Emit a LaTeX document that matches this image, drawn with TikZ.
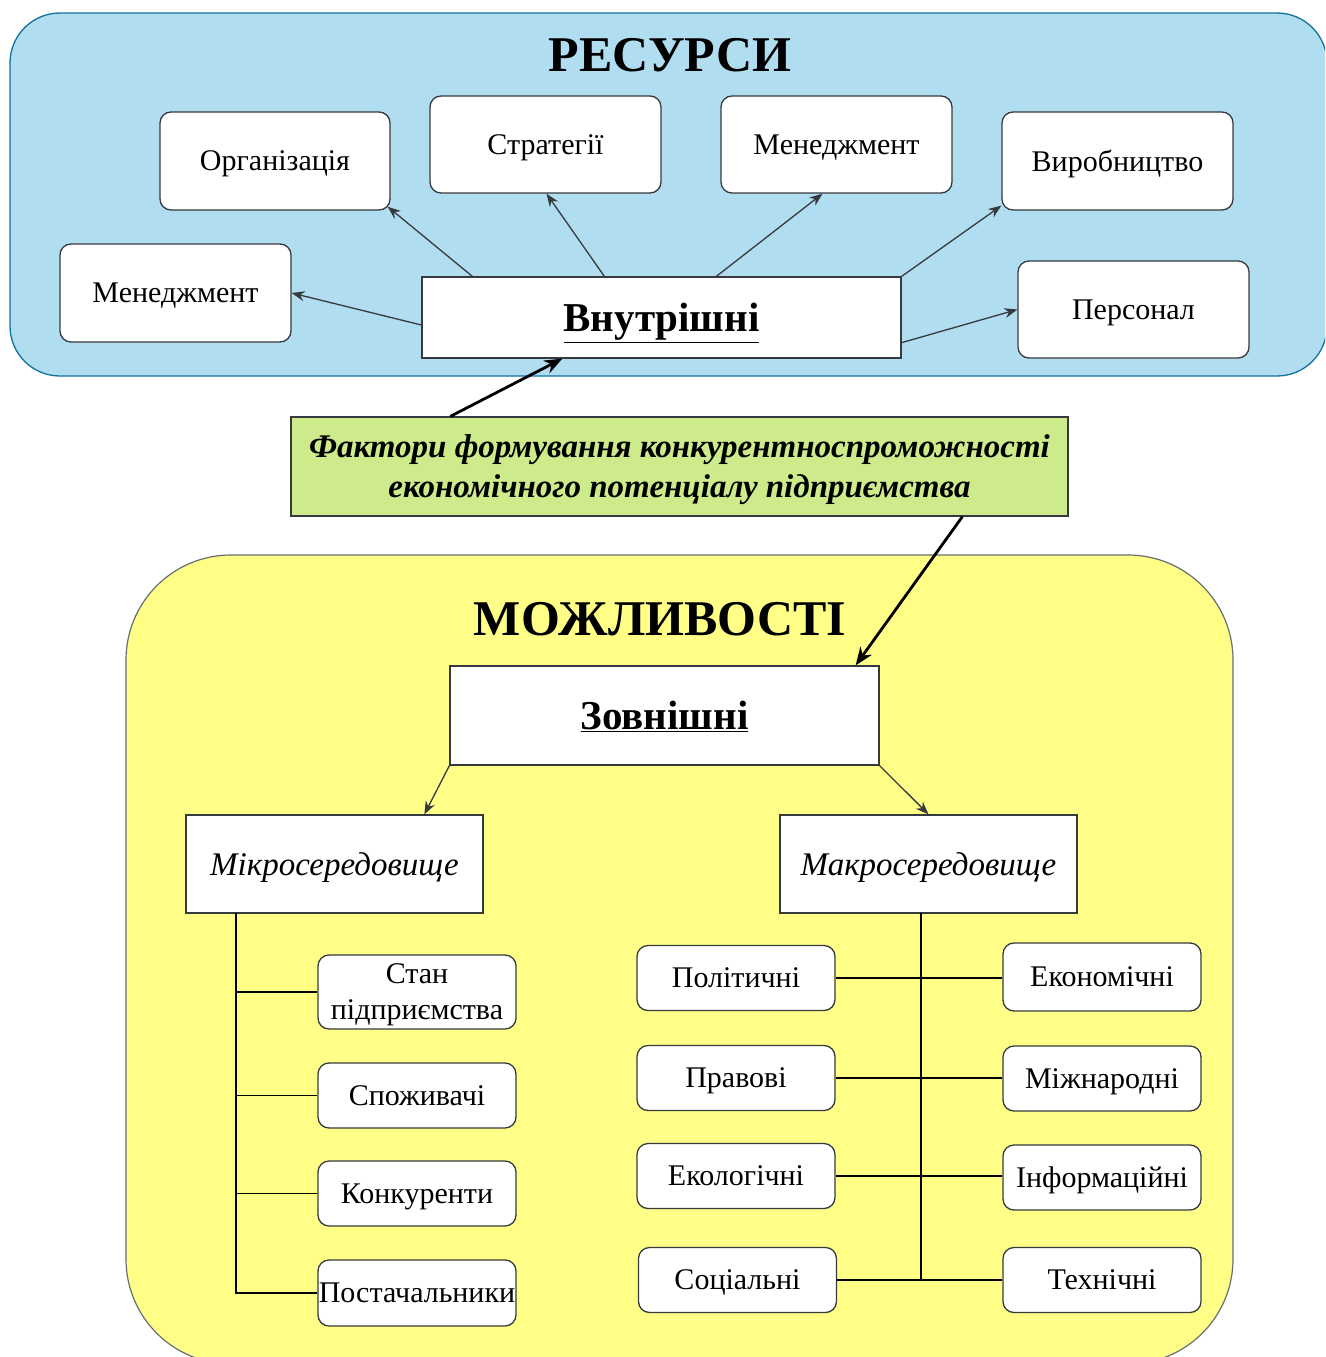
\documentclass[tikz,border=0pt]{standalone}
\usepackage{fontspec}
\setmainfont{Liberation Serif}
\usetikzlibrary{arrows.meta,calc}

\definecolor{resfill}{HTML}{B1DDF0}
\definecolor{resline}{HTML}{10739E}
\definecolor{opfill}{HTML}{FFFF88}
\definecolor{opline}{HTML}{6B6D70}
\definecolor{factfill}{HTML}{CDEB8B}
\definecolor{darkline}{HTML}{36393D}

\tikzset{
  item/.style={draw=darkline, line width=1.3pt, fill=white, rounded corners=11pt,
    inner sep=0pt, align=center, text depth=0pt, font=\fontsize{30}{36}\selectfont},
  plainbox/.style={draw=darkline, line width=1.3pt, fill=white, inner sep=0pt,
    align=center, text depth=0pt},
  thinarrow/.style={draw=darkline, line width=1.3pt, -{Stealth[length=13pt,width=10pt]}},
  thickarrow/.style={draw=black, line width=2.8pt, -{Stealth[length=18pt,width=14pt]}},
  treeline/.style={draw=black, line width=1.3pt},
  title/.style={font=\fontsize{50}{60}\selectfont\bfseries, inner sep=0pt}
}

\begin{document}
\begin{tikzpicture}[x=1pt,y=-1pt]
\useasboundingbox (0,0) rectangle (1325,1357);
\clip (0,0) rectangle (1325,1357);
\fill[white] (0,0) rectangle (1325,1357);

% background areas
\draw[fill=resfill, draw=resline, line width=1.3pt, rounded corners=50pt] (10,13) rectangle (1327,376);
\draw[fill=opfill, draw=opline, line width=1.2pt, rounded corners=105pt] (126,555) rectangle (1233,1364);

\node[title] (restitle) at (670,55) {РЕСУРСИ};
\node[title] (optitle) at (660,619) {МОЖЛИВОСТІ};

% internal resources
\node[item, minimum width=230pt, minimum height=98pt] (org) at (275,161) {Організація};
\node[item, minimum width=231pt, minimum height=97pt] (strat) at (545.5,144.5) {Стратегії};
\node[item, minimum width=231pt, minimum height=97pt] (mgmtb) at (836.5,144.5) {Менеджмент};
\node[item, minimum width=231pt, minimum height=98pt] (prod) at (1117.5,161) {Виробництво};
\node[item, minimum width=231pt, minimum height=98pt] (mgmta) at (175.5,293) {Менеджмент};
\node[item, minimum width=231pt, minimum height=97pt] (staff) at (1133.5,309.5) {Персонал};
\node[plainbox, minimum width=479pt, minimum height=81pt,
  font=\fontsize{41}{46}\selectfont\bfseries] (inner) at (661.5,317.5) {\underline{Внутрішні}};

\draw[thinarrow] ([yshift=-7.5pt]inner.west) -- (mgmta.east);
\draw[thinarrow] ([xshift=51pt]inner.north west) -- ([xshift=-3pt,yshift=4pt]org.south east);
\draw[thinarrow] ([xshift=183pt]inner.north west) -- ([xshift=1pt]strat.south);
\draw[thinarrow] ([xshift=295pt]inner.north west) -- ([xshift=-14pt]mgmtb.south);
\draw[thinarrow] (inner.north east) -- ([yshift=5pt]prod.south west);
\draw[thinarrow] ([yshift=16pt]inner.south east) -- (staff.west);

% central factor box
\node[draw=darkline, line width=1.3pt, fill=factfill, inner sep=0pt, align=center,
  minimum width=777pt, minimum height=99pt, text depth=0pt,
  font=\fontsize{33}{40}\selectfont\bfseries\itshape] (factors) at (679.5,466.5)
  {Фактори формування конкурентноспроможності\\економічного потенціалу підприємства};

\node[plainbox, minimum width=429pt, minimum height=99pt,
  font=\fontsize{41}{46}\selectfont\bfseries] (outer) at (664.5,715.5) {\underline{Зовнішні}};

\draw[thickarrow] ([xshift=160pt]factors.north west) -- ([xshift=141pt]inner.south west);
\draw[thickarrow] ([xshift=672pt]factors.south west) -- ([xshift=-24pt]outer.north east);

% environments
\node[plainbox, minimum width=297pt, minimum height=98pt,
  font=\fontsize{33}{38}\selectfont\itshape] (micro) at (334.5,864) {Мікросередовище};
\node[plainbox, minimum width=297pt, minimum height=98pt,
  font=\fontsize{33}{38}\selectfont\itshape] (macro) at (928.5,864) {Макросередовище};

\draw[thinarrow] (outer.south west) -- ([xshift=239pt]micro.north west);
\draw[thinarrow] (outer.south east) -- (macro.north);

% micro-environment factors
\node[item, minimum width=198pt, minimum height=74pt, font=\fontsize{30}{36}\selectfont] (state) at (417,992) {Стан\\підприємства};
\node[item, minimum width=198pt, minimum height=65pt] (cons) at (417,1095.5) {Споживачі};
\node[item, minimum width=198pt, minimum height=65pt] (comp) at (417,1193.5) {Конкуренти};
\node[item, minimum width=198pt, minimum height=66pt] (supp) at (417,1293) {Постачальники};

\coordinate (mtrunk) at (236,913);
\draw[treeline] (mtrunk) |- (supp.west);
\draw[treeline] (mtrunk |- state.west) -- (state.west);
\draw[treeline] (mtrunk |- cons.west) -- (cons.west);
\draw[treeline] (mtrunk |- comp.west) -- (comp.west);

% macro-environment factors
\node[item, minimum width=198pt, minimum height=65pt] (pol) at (736,978) {Політичні};
\node[item, minimum width=198pt, minimum height=65pt] (law) at (736,1078) {Правові};
\node[item, minimum width=198pt, minimum height=65pt] (eco) at (736,1176) {Екологічні};
\node[item, minimum width=198pt, minimum height=65pt] (soc) at (737.5,1280) {Соціальні};
\node[item, minimum width=198pt, minimum height=68pt] (econ) at (1102,977) {Економічні};
\node[item, minimum width=198pt, minimum height=65pt] (intl) at (1102,1078.5) {Міжнародні};
\node[item, minimum width=198pt, minimum height=65pt] (info) at (1102,1177.5) {Інформаційні};
\node[item, minimum width=198pt, minimum height=65pt] (tech) at (1102,1280) {Технічні};

\coordinate (Mtrunk) at (921,913);
\coordinate (Mbottom) at (921,1280);
\draw[treeline] (Mtrunk) -- (Mbottom);
\draw[treeline] (pol.east) -- (pol.east -| econ.west);
\draw[treeline] (law.east) -- (law.east -| intl.west);
\draw[treeline] (eco.east) -- (eco.east -| info.west);
\draw[treeline] (soc.east) -- (soc.east -| tech.west);
\end{tikzpicture}
\end{document}
